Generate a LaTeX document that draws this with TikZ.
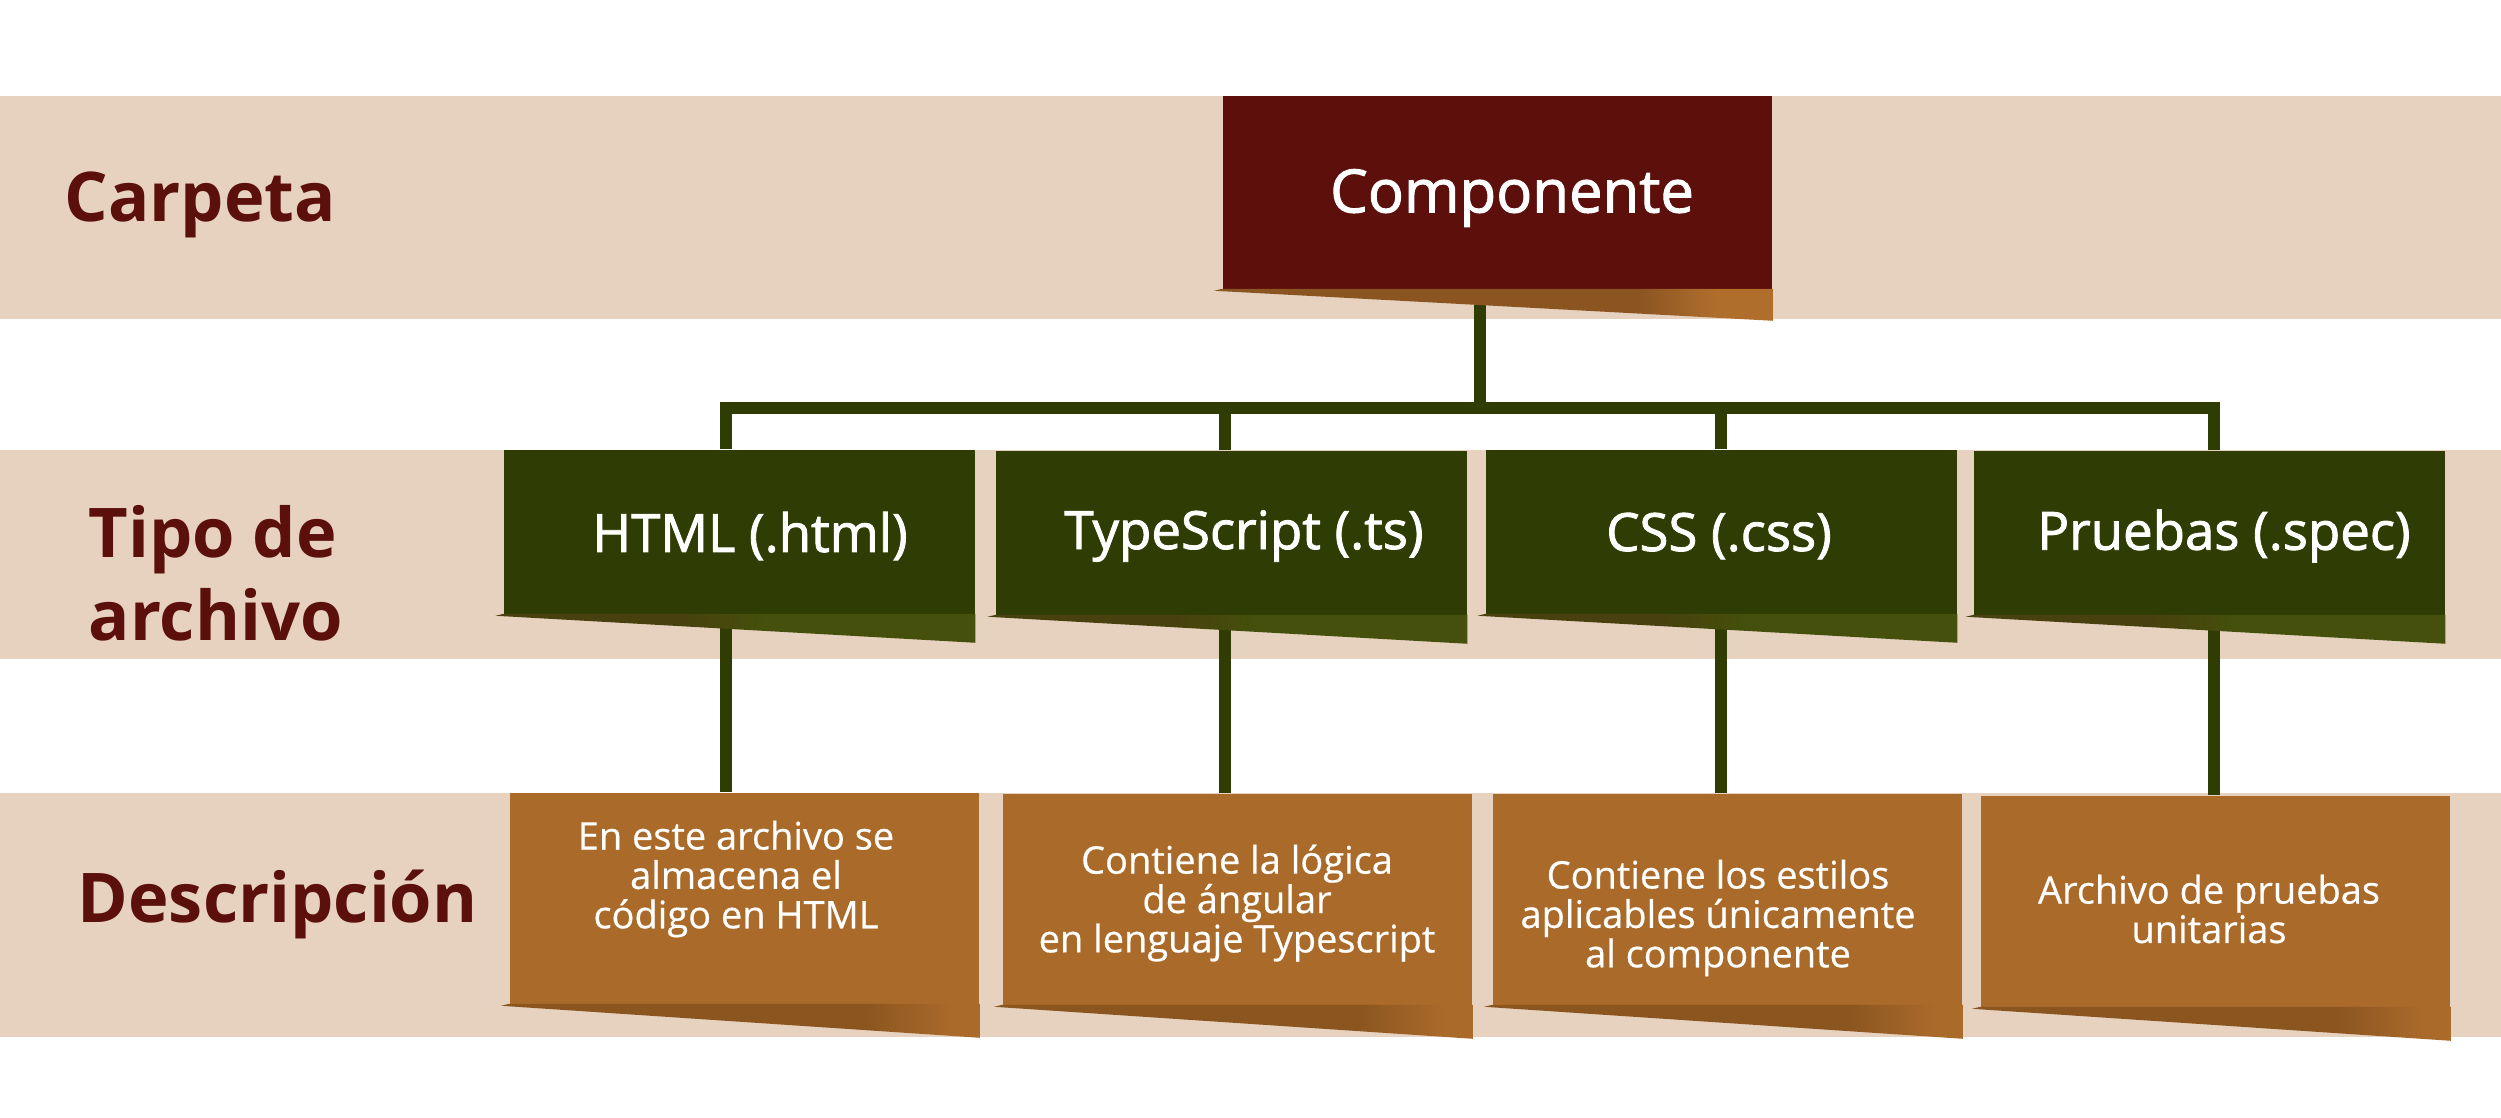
\documentclass[tikz,border=0pt]{standalone}
\usepackage{fontspec}
\setmainfont{Open Sans}
\newfontfamily\osemi[FakeBold=1.6]{Open Sans}
\newfontfamily\olight[FakeBold=0.5]{Open Sans}
\usetikzlibrary{calc}
\definecolor{band}{HTML}{E6D2BF}
\definecolor{comp}{HTML}{5C0F0B}
\definecolor{lab}{HTML}{5C100C}
\definecolor{olive}{HTML}{2F3C04}
\definecolor{rust}{HTML}{AA6A2A}
\definecolor{cf1}{HTML}{8B5522}
\definecolor{cf2}{HTML}{B06E2C}
\definecolor{gf1}{HTML}{48400E}
\definecolor{gf2}{HTML}{44500B}
\definecolor{bf1}{HTML}{8B5520}
\definecolor{bf2}{HTML}{AA6A2A}
\pgfdeclarehorizontalshading{compflap}{100bp}{color(0bp)=(cf1);color(63bp)=(cf1);color(70bp)=(cf2);color(100bp)=(cf2)}
\pgfdeclarehorizontalshading{greenflap}{100bp}{color(0bp)=(gf1);color(44bp)=(gf1);color(53bp)=(gf2);color(100bp)=(gf2)}
\pgfdeclarehorizontalshading{brownflap}{100bp}{color(0bp)=(bf1);color(63bp)=(bf1);color(72bp)=(bf2);color(100bp)=(bf2)}
\tikzset{
  conn/.style={draw=olive, line width=0.12cm},
  compbox/.style={fill=comp, inner sep=0pt, minimum width=5.49cm, minimum height=1.94cm},
  greenbox/.style={fill=olive, inner sep=0pt, minimum width=4.70cm, minimum height=1.65cm},
  brownbox/.style={fill=rust, inner sep=0pt, minimum width=4.69cm, minimum height=2.12cm},
  lefttxt/.style={text=lab, anchor=west, align=left, font=\fontsize{19.5}{23.6}\selectfont\bfseries, inner sep=0pt},
  comptxt/.style={text=white, font=\osemi\fontsize{17}{20}\selectfont, inner sep=0pt},
  greentxt/.style={text=white, font=\osemi\fontsize{15}{18}\selectfont, inner sep=0pt},
  browntxt/.style={text=white, align=center, font=\olight\fontsize{10.8}{11.2}\selectfont, inner sep=0pt},
}
\begin{document}
\begin{tikzpicture}[x=0.01cm, y=-0.01cm]
\useasboundingbox (0,0) rectangle (2501,1117);
\fill[white] (0,0) rectangle (2501,1117);
% bands
\fill[band] (0,96) rectangle (2501,319);
\fill[band] (0,450) rectangle (2501,659);
\fill[band] (0,793) rectangle (2501,1037);
% left labels
\node[lefttxt] (lcarp) at (64,205) {Carpeta};
\node[lefttxt] (ltipo) at (88,573) {Tipo de\\archivo};
\node[lefttxt] (ldesc) at (77,904) {Descripción};
% boxes
\node[compbox] (comp) at (1497.5,193) {};
\node[greenbox] (g1) at (739.5,532.5) {};
\node[greenbox] (g2) at (1231.5,533.5) {};
\node[greenbox] (g3) at (1721.5,532.5) {};
\node[greenbox] (g4) at (2209.5,533.5) {};
\node[brownbox] (b1) at (744.5,899) {};
\node[brownbox] (b2) at (1237.5,900) {};
\node[brownbox] (b3) at (1727.5,900) {};
\node[brownbox] (b4) at (2215.5,902) {};
% connectors
\coordinate (hc) at (1480,408);
\coordinate (h1) at (726,408);
\coordinate (h2) at (1225,408);
\coordinate (h3) at (1721,408);
\coordinate (h4) at (2214,408);
\draw[conn] (hc |- comp.south) -- (hc);
\draw[conn, line cap=rect] (h1) -- (h4);
\foreach \i in {1,2,3,4}{
  \draw[conn] (h\i) -- (h\i |- g\i.north);
  \draw[conn] (h\i |- g\i.south) -- (h\i |- b\i.north);
}
% flaps (overlap the box by 2 units to hide the seam)
\shade[shading=compflap] ($(comp.south west)+(-8,0)$) -- ($(comp.south west)+(0,-2)$) -- ($(comp.south east)+(0,-2)$) -- ($(comp.south east)+(0,30)$) -- cycle;
\foreach \i in {1,2,3,4}{
  \shade[shading=greenflap] ($(g\i.south west)+(-8,0)$) -- ($(g\i.south west)+(0,-2)$) -- ($(g\i.south east)+(0,-2)$) -- ($(g\i.south east)+(0,27)$) -- cycle;
  \shade[shading=brownflap] ($(b\i.south west)+(-8,0)$) -- ($(b\i.south west)+(0,-2)$) -- ($(b\i.south east)+(0,-2)$) -- ($(b\i.south east)+(0,32)$) -- cycle;
}
% texts
\node[comptxt] (tcomp) at (1512,198) {Componente};
\node[greentxt] (tg1) at (750,536) {HTML (.html)};
\node[greentxt] (tg2) at (1244,536) {TypeScript (.ts)};
\node[greentxt] (tg3) at (1719,536) {CSS (.css)};
\node[greentxt] (tg4) at (2224,536) {Pruebas (.spec)};
\node[browntxt] (tb1) at (736,879) {En este archivo se\\almacena el\\código en HTML};
\node[browntxt] (tb2) at (1237,903) {Contiene la lógica\\de ángular\\en lenguaje Typescript};
\node[browntxt] (tb3) at (1718,918) {Contiene los estilos\\aplicables únicamente\\al componente};
\node[browntxt] (tb4) at (2209,909) {Archivo de pruebas\\unitarias};
\end{tikzpicture}
\end{document}
